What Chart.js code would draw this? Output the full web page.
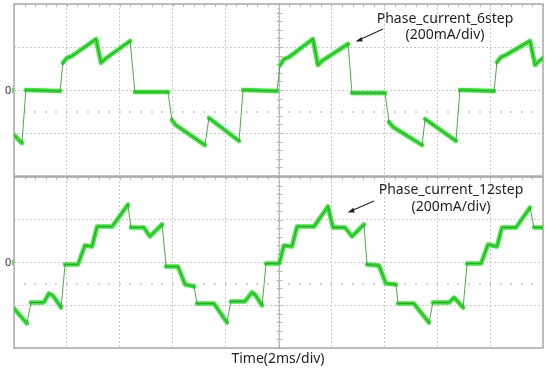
<!DOCTYPE html>
<html>
<head>
<meta charset="utf-8">
<script src="https://cdn.jsdelivr.net/npm/chart.js@4/dist/chart.umd.min.js"></script>
<style>
  html, body { margin: 0; padding: 0; background: #fff; }
  #scope { position: relative; width: 546px; height: 369px; overflow: hidden;
           font-family: "Noto Sans", "DejaVu Sans", sans-serif; color: #1e1e1e; }
  #scope canvas { position: absolute; left: 0; top: 0; }
  .txt { position: absolute; white-space: nowrap; line-height: 1; font-size: 14px; text-align: center; }
  .zero { position: absolute; font-size: 11px; line-height: 1; color: #333; }
  .gnd { position: absolute; width: 2px; height: 5px; background: #5fe05f; }
  svg { position: absolute; left: 0; top: 0; }
</style>
</head>
<body>
<div id="scope">
  <canvas id="trace6" width="546" height="369"></canvas>
  <canvas id="trace12" width="546" height="369"></canvas>

  <div class="zero" style="left:5px; top:84px;">0</div>
  <div class="gnd" style="left:12px; top:88px;"></div>
  <div class="zero" style="left:5px; top:256px;">0</div>
  <div class="gnd" style="left:12px; top:260px;"></div>

  <div class="txt" style="left:345px; width:200px; top:11px;">Phase_current_6step</div>
  <div class="txt" style="left:345px; width:200px; top:27px;">(200mA/div)</div>
  <div class="txt" style="left:351px; width:200px; top:182px;">Phase_current_12step</div>
  <div class="txt" style="left:351px; width:200px; top:199px;">(200mA/div)</div>
  <div class="txt" style="left:178px; width:200px; top:351px;">Time(2ms/div)</div>

  <svg width="546" height="369">
    <line x1="383" y1="29" x2="359" y2="40" stroke="#222" stroke-width="1.1"/>
    <polygon points="355.5,41.6 361.5,36.9 362.7,41.5" fill="#222"/>
    <line x1="374" y1="201" x2="351" y2="211" stroke="#222" stroke-width="1.1"/>
    <polygon points="347.5,212.5 353.4,207.8 354.7,212.4" fill="#222"/>
  </svg>
</div>

<script>
// 6-step phase current: time (ms) and current (mA)
const timeMs6 = [0, 0.30, 0.45, 1.74, 1.85, 2.00, 2.19, 3.10, 3.29, 3.44,
                 4.39, 4.57, 5.82, 5.97, 6.12, 7.22, 7.37, 8.51, 8.66, 9.94,
                 10.06, 10.21, 10.40, 11.30, 11.49, 11.64, 12.63, 12.78, 14.03, 14.18,
                 14.33, 15.43, 15.54, 16.71, 16.86, 18.15, 18.26, 18.41, 18.60, 19.51,
                 19.70, 19.85, 20.0];
const current6 = [-209, -247, 0, -5, 126, 149, 158, 237, 126, 144,
                  228, -9, -9, -140, -163, -256, -130, -237, 0, -5,
                  116, 144, 153, 237, 116, 135, 214, -14, -14, -149,
                  -172, -256, -135, -237, 0, -5, 130, 153, 163, 228,
                  116, 135, 148];

// 12-step phase current: time (ms) and current (mA)
const timeMs12 = [0, 0.49, 0.64, 1.13, 1.32, 1.47, 1.78, 1.93, 2.42, 2.68,
                  2.95, 3.14, 3.71, 4.31, 4.42, 4.91, 5.14, 5.60, 5.75, 6.20,
                  6.47, 6.81, 6.92, 7.56, 8.05, 8.20, 8.73, 9.00, 9.11, 9.38,
                  9.53, 10.02, 10.21, 10.51, 10.70, 11.34, 11.87, 12.06, 12.51, 12.78,
                  13.23, 13.35, 13.80, 14.06, 14.44, 14.52, 15.12, 15.69, 15.84, 16.45,
                  16.64, 16.98, 17.13, 17.66, 17.92, 18.26, 18.45, 18.98, 19.51, 19.66,
                  20.0];
const current12 = [-215, -285, -187, -187, -145, -154, -211, -9, -9, 80,
                   75, 168, 168, 271, 164, 164, 122, 178, -19, -19,
                   -103, -112, -192, -192, -281, -182, -182, -140, -150, -201,
                   -5, -5, 80, 75, 168, 168, 262, 164, 164, 122,
                   178, -9, -14, -98, -103, -192, -192, -281, -187, -187,
                   -164, -211, -5, -5, 84, 75, 164, 164, 257, 164,
                   164];

// screen divisions
const timeDivMs = 2;      // 2 ms/div, 10 divisions
const currentDivMa = 200; // 200 mA/div, 4 divisions

// near-vertical edges are drawn thin only
const steep = c => Math.abs(c.p1.x - c.p0.x) < 5 && Math.abs(c.p1.y - c.p0.y) > 12;

const scopeGraticule = {
  id: 'scopeGraticule',
  beforeDatasetsDraw(chart) {
    const { ctx, chartArea: a, scales: { x, y } } = chart;
    ctx.save();
    // sparse dot row half a division below zero
    ctx.fillStyle = '#d2d2d2';
    const yh = Math.round(y.getPixelForValue(-currentDivMa / 2));
    for (let k = 1; k < 50; k++) {
      const px = Math.round(x.getPixelForValue(k * timeDivMs / 5));
      ctx.fillRect(px - 1, yh - 1, 2, 2);
    }
    // centre time axis with minor ticks
    ctx.strokeStyle = '#b8b8b8';
    ctx.lineWidth = 1;
    const xc = Math.round(x.getPixelForValue(5 * timeDivMs)) + 0.5;
    ctx.beginPath();
    ctx.moveTo(xc, a.top); ctx.lineTo(xc, a.bottom);
    for (let k = -10; k <= 10; k++) {
      const py = Math.round(y.getPixelForValue(k * currentDivMa / 5)) + 0.5;
      ctx.moveTo(xc - 3, py); ctx.lineTo(xc + 3, py);
    }
    for (let k = 0; k <= 50; k++) {
      const px = Math.round(x.getPixelForValue(k * timeDivMs / 5)) + 0.5;
      ctx.moveTo(px, a.top); ctx.lineTo(px, a.top + 3);
    }
    ctx.stroke();
    // screen frame
    ctx.strokeStyle = '#ababab';
    ctx.lineWidth = 1.5;
    ctx.strokeRect(a.left, a.top, a.right - a.left, a.bottom - a.top);
    ctx.restore();
  }
};

function scopePanel(id, times, values, pad) {
  const pts = times.map((t, i) => ({ x: t, y: values[i] }));
  const gridStyle = { color: '#c8c8c8', lineWidth: 1, drawTicks: false };
  return new Chart(document.getElementById(id), {
    type: 'line',
    data: {
      datasets: [
        { data: pts, borderColor: 'rgba(30,150,30,0.8)', borderWidth: 1,
          pointRadius: 0, tension: 0, order: 0 },
        { data: pts, borderColor: '#3ae23a', borderWidth: 4.5,
          borderJoinStyle: 'round', borderCapStyle: 'round',
          pointRadius: 0, tension: 0, order: 1,
          segment: { borderColor: c => steep(c) ? 'rgba(0,0,0,0)' : undefined } }
      ]
    },
    options: {
      responsive: false,
      animation: false,
      events: [],
      layout: { padding: pad },
      plugins: { legend: { display: false }, tooltip: { enabled: false } },
      scales: {
        x: { type: 'linear', min: 0, max: 10 * timeDivMs,
             ticks: { display: false, stepSize: timeDivMs },
             grid: gridStyle, border: { display: false, dash: [2, 2] } },
        y: { type: 'linear', min: -2 * currentDivMa, max: 2 * currentDivMa,
             ticks: { display: false, stepSize: currentDivMa },
             grid: gridStyle, border: { display: false, dash: [2, 2] } }
      }
    },
    plugins: [scopeGraticule]
  });
}

scopePanel('trace6', timeMs6, current6, { left: 14, right: 3, top: 4, bottom: 193 });
scopePanel('trace12', timeMs12, current12, { left: 14, right: 3, top: 177, bottom: 21 });
</script>
</body>
</html>
